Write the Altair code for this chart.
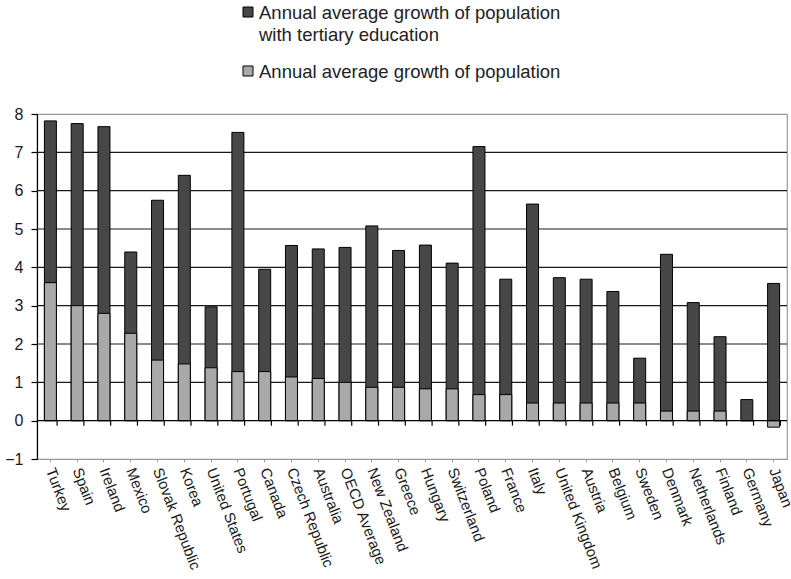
import altair as alt
import pandas as pd

countries = ["Turkey", "Spain", "Ireland", "Mexico", "Slovak Republic", "Korea",
             "United States", "Portugal", "Canada", "Czech Republic", "Australia",
             "OECD Average", "New Zealand", "Greece", "Hungary", "Switzerland",
             "Poland", "France", "Italy", "United Kingdom", "Austria", "Belgium",
             "Sweden", "Denmark", "Netherlands", "Finland", "Germany", "Japan"]
tertiary = [7.82, 7.75, 7.67, 4.40, 5.75, 6.40, 2.97, 7.52, 3.95, 4.57, 4.48,
            4.52, 5.08, 4.44, 4.58, 4.11, 7.15, 3.69, 5.65, 3.73, 3.69, 3.37,
            1.63, 4.34, 3.08, 2.19, 0.55, 3.58]
population = [3.60, 3.00, 2.80, 2.28, 1.58, 1.48, 1.38, 1.28, 1.28, 1.14, 1.10,
              1.00, 0.87, 0.87, 0.83, 0.83, 0.68, 0.68, 0.46, 0.46, 0.46, 0.46,
              0.46, 0.25, 0.25, 0.25, 0.00, -0.17]
y_ticks = [-1, 0, 1, 2, 3, 4, 5, 6, 7, 8]
grid_values = [1, 2, 3, 4, 5, 6, 7]
legend_labels = [["Annual average growth of population", "with tertiary education"],
                 "Annual average growth of population"]

df = pd.DataFrame({"Country": countries, "tertiary": tertiary, "population": population})
grid_df = pd.DataFrame({"v": grid_values})
one = pd.DataFrame({"k": [0]})

W, H = 750, 345
FONT = "Liberation Sans"
DARK = "#474747"
LIGHT = "#a9a9a9"
STEP = W / len(countries)

yscale = alt.Scale(domain=[-1, 8], nice=False, zero=False)
xscale = alt.Scale(domain=countries, paddingInner=0.5, paddingOuter=0.25)
yaxis = alt.Axis(values=y_ticks, grid=False, domainColor="black",
                 domainWidth=1.2, tickColor="black", tickSize=6, tickWidth=1.2,
                 labelPadding=8, labelOverlap=False, labelFontSize=16,
                 labelFont=FONT, labelColor="#1a1a1a", title=None)
xaxis = alt.Axis(title=None, orient="bottom", labelAngle=69, labelFontSize=15,
                 labelFont=FONT, labelColor="#1a1a1a", domain=False, tickColor="#999",
                 tickSize=3, labelPadding=6)

grid = alt.Chart(grid_df).mark_rule(color="#1a1a1a", strokeWidth=1.2).encode(
    y=alt.Y("v:Q", scale=yscale, axis=yaxis)
)

dark = alt.Chart(df).mark_bar(color=DARK, stroke="black", strokeWidth=1, width=12).encode(
    x=alt.X("Country:N", scale=xscale, sort=countries, axis=xaxis),
    y=alt.Y("tertiary:Q", scale=yscale, axis=yaxis),
    y2=alt.datum(0),
)

light = alt.Chart(df).mark_bar(color=LIGHT, stroke="black", strokeWidth=1, width=12).encode(
    x=alt.X("Country:N", sort=countries, axis=xaxis),
    y=alt.Y("population:Q", scale=yscale, axis=yaxis),
    y2=alt.datum(0),
)

zero_line = alt.Chart(one).mark_rule(color="black", strokeWidth=1.2).encode(
    y=alt.datum(0, axis=yaxis)
)

zero_ticks = alt.Chart(df).mark_rule(color="black", strokeWidth=1.2, y2Offset=5).encode(
    x=alt.X("Country:N", sort=countries, axis=xaxis),
    xOffset=alt.value(STEP / 2),
    y=alt.datum(0, axis=yaxis),
    y2=alt.datum(0),
)

leg_sq1 = alt.Chart(one).mark_square(size=100, color=DARK, stroke="black", strokeWidth=1,
                                     opacity=1).encode(x=alt.value(211), y=alt.value(-102))
leg_sq2 = alt.Chart(one).mark_square(size=100, color=LIGHT, stroke="black", strokeWidth=1,
                                     opacity=1).encode(x=alt.value(211), y=alt.value(-43))
leg_t1 = alt.Chart(one).mark_text(text=legend_labels[0], align="left", baseline="middle",
                                  fontSize=18.5, font=FONT, color="#222", lineHeight=22).encode(
    x=alt.value(222), y=alt.value(-101))
leg_t2 = alt.Chart(one).mark_text(text=legend_labels[1], align="left", baseline="middle",
                                  fontSize=18.5, font=FONT, color="#222").encode(
    x=alt.value(222), y=alt.value(-42))

chart = alt.layer(grid, dark, light, zero_line, zero_ticks,
                  leg_sq1, leg_sq2, leg_t1, leg_t2).properties(
    width=W, height=H,
    autosize=alt.AutoSizeParams(type="none"),
    padding={"left": 37, "top": 114, "right": 4, "bottom": 120},
).configure_view(stroke="#999", strokeWidth=1.2)

chart.save("out.html", embed_options={"renderer": "svg", "actions": False})
